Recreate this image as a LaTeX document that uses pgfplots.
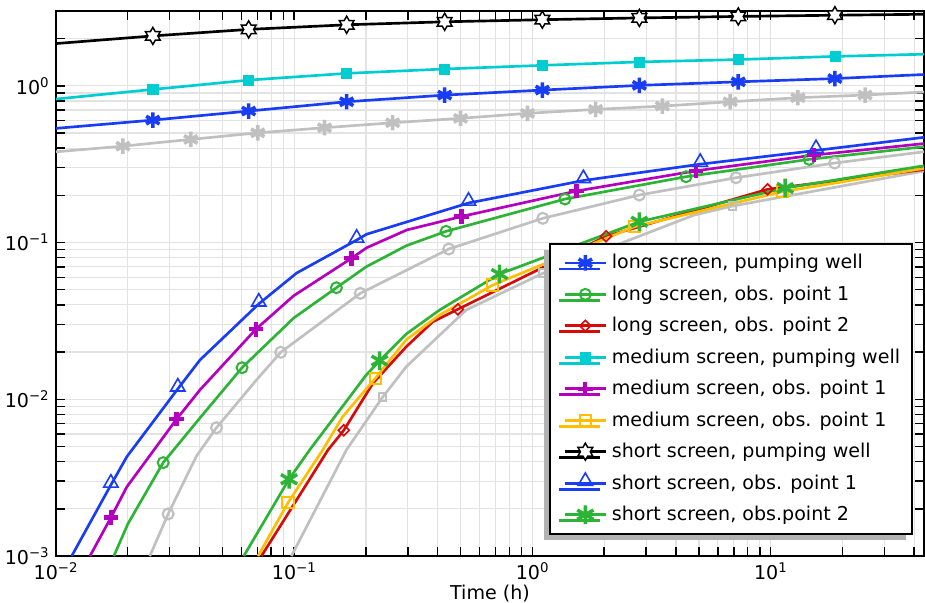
\documentclass[border=0pt]{standalone}
\usepackage{pgfplots}
\pgfplotsset{compat=1.18}
\usepackage{fontspec}
\setmainfont{DejaVu Sans}
\usetikzlibrary{shadows}
\definecolor{cblue}{RGB}{25,60,245}
\definecolor{cgreen}{RGB}{45,180,55}
\definecolor{cred}{RGB}{215,10,10}
\definecolor{ccyan}{RGB}{0,205,210}
\definecolor{cmag}{RGB}{180,0,190}
\definecolor{corange}{RGB}{255,190,0}
\definecolor{cgray}{RGB}{192,192,192}
\pgfdeclareplotmark{hexagram}{%
  \pgfpathmoveto{\pgfpointpolar{90}{\pgfplotmarksize}}%
  \pgfpathlineto{\pgfpointpolar{120}{0.57735\pgfplotmarksize}}%
  \pgfpathlineto{\pgfpointpolar{150}{\pgfplotmarksize}}%
  \pgfpathlineto{\pgfpointpolar{180}{0.57735\pgfplotmarksize}}%
  \pgfpathlineto{\pgfpointpolar{210}{\pgfplotmarksize}}%
  \pgfpathlineto{\pgfpointpolar{240}{0.57735\pgfplotmarksize}}%
  \pgfpathlineto{\pgfpointpolar{270}{\pgfplotmarksize}}%
  \pgfpathlineto{\pgfpointpolar{300}{0.57735\pgfplotmarksize}}%
  \pgfpathlineto{\pgfpointpolar{330}{\pgfplotmarksize}}%
  \pgfpathlineto{\pgfpointpolar{0}{0.57735\pgfplotmarksize}}%
  \pgfpathlineto{\pgfpointpolar{30}{\pgfplotmarksize}}%
  \pgfpathlineto{\pgfpointpolar{60}{0.57735\pgfplotmarksize}}%
  \pgfpathclose
  \pgfusepathqfillstroke
}
\tikzset{
  ln/.style={line width=2pt},
  mAst/.style={mark=asterisk, mark size=5.8pt, mark options={solid, line width=2.7pt}},
  mAstG/.style={mark=asterisk, mark size=7pt, mark options={solid, line width=2.6pt}},
  mCirc/.style={mark=o, mark size=4.1pt, mark options={solid, line width=1.5pt, fill=white}},
  mDia/.style={mark=square, mark size=2.9pt, mark options={solid, rotate=45, line width=1.2pt, fill=white}},
  mSqF/.style={mark=square*, mark size=3.8pt, mark options={solid, line width=0.5pt}},
  mPlus/.style={mark=+, mark size=5.4pt, mark options={solid, line width=3.2pt}},
  mSq/.style={mark=square, mark size=4.2pt, mark options={solid, line width=1.5pt, fill=white}},
  mHex/.style={mark=hexagram, mark size=6.4pt, mark options={solid, line width=1.1pt, fill=white}},
  mTri/.style={mark=triangle, mark size=6.2pt, mark options={solid, line width=1.2pt, fill=white, yshift=1.5pt}},
}
\begin{document}
\fontsize{14.3}{17}\selectfont
\begin{tikzpicture}
\begin{axis}[
  scale only axis, width=651pt, height=408.75pt,
  xmode=log, ymode=log,
  xmin=0.01, xmax=44, ymin=0.001, ymax=3,
  xtick={0.01,0.1,1,10},
  xticklabels={10\textsuperscript{−2},10\textsuperscript{−1},10\textsuperscript{0},10\textsuperscript{1}},
  ytick={0.001,0.01,0.1,1},
  yticklabels={10\textsuperscript{−3},10\textsuperscript{−2},10\textsuperscript{−1},10\textsuperscript{0}},
  minor xtick={0.02,0.03,0.04,0.05,0.06,0.07,0.08,0.09,0.2,0.3,0.4,0.5,0.6,0.7,0.8,0.9,2,3,4,5,6,7,8,9,20,30,40},
  minor ytick={0.002,0.003,0.004,0.005,0.006,0.007,0.008,0.009,0.02,0.03,0.04,0.05,0.06,0.07,0.08,0.09,0.2,0.3,0.4,0.5,0.6,0.7,0.8,0.9,2},
  grid=both,
  major grid style={draw=black!11, line width=0.9pt},
  minor grid style={draw=black!11, line width=0.9pt},
  axis line style={line width=1.5pt},
  tick align=inside,
  every tick/.style={black, line width=1.1pt},
  major tick length=6.5pt, minor tick length=6.5pt,
  xlabel={Time (h)},
  xlabel style={yshift=6pt},
  legend cell align=left,
  legend image code/.code={\pgfpathmoveto{\pgfqpoint{-6pt}{0pt}}\pgfusepath{}\draw[mark repeat=2,mark phase=2,#1] plot coordinates {(0pt,0pt) (15.5pt,0pt) (31pt,0pt)};},
  legend style={at={(0.987,0.0385)}, anchor=south east, draw=black, line width=1.5pt, fill=white,
    drop shadow={shadow xshift=-4.5pt, shadow yshift=-4.5pt, fill=black!30, opacity=1},
    inner xsep=5.3pt, inner ysep=6pt, row sep=6.6pt, nodes={inner xsep=3.4pt},
    font=\fontsize{14.3}{17}\selectfont},
]
% gray reference curves
\addplot[cgray, ln, forget plot] coordinates {(0.01,0.379) (0.0191,0.412) (0.0368,0.455) (0.0703,0.501) (0.134,0.540) (0.259,0.581) (0.499,0.620) (0.953,0.667) (1.84,0.707) (3.51,0.742) (6.76,0.791) (13.0,0.839) (24.9,0.873) (44,0.912)};
\addplot[cgray, only marks, mAst, forget plot] coordinates {(0.0191,0.412) (0.0368,0.455) (0.0703,0.501) (0.134,0.540) (0.259,0.581) (0.499,0.620) (0.953,0.667) (1.84,0.707) (3.51,0.742) (6.76,0.791) (13.0,0.839) (24.9,0.873)};
\addplot[cgray, ln, forget plot] coordinates {(0.02477,0.001) (0.02957,0.001855) (0.0389,0.004349) (0.04718,0.00659) (0.06943,0.01328) (0.08778,0.01994) (0.1894,0.04742) (0.4452,0.0909) (1.105,0.1427) (2.809,0.2009) (7.147,0.259) (18.55,0.3214) (44,0.3795)};
\addplot[cgray, only marks, mCirc, mark options={line width=1.6pt}, forget plot] coordinates {(0.02957,0.001855) (0.04718,0.00659) (0.08778,0.01994) (0.1894,0.04742) (0.4452,0.0909) (1.105,0.1427) (2.809,0.2009) (7.147,0.259) (18.55,0.3214)};
\addplot[cgray, ln, forget plot] coordinates {(0.09734,0.001) (0.1656,0.00475) (0.2348,0.0103) (0.2954,0.01614) (0.5272,0.03711) (1.105,0.06361) (4.778,0.1498) (6.915,0.1709) (44,0.2858)};
\addplot[cgray, only marks, mDia, mark options={line width=1.5pt}, forget plot] coordinates {(0.2348,0.0103) (1.105,0.06361) (6.915,0.1709)};
% long screen, pumping well
\addplot[cblue, ln, forget plot] coordinates {(0.01,0.535) (0.0255,0.604) (0.0644,0.690) (0.166,0.791) (0.428,0.872) (1.10,0.939) (2.81,1.006) (7.31,1.06) (18.6,1.112) (44,1.18)};
\addplot[cblue, only marks, mAst, forget plot] coordinates {(0.0255,0.604) (0.0644,0.690) (0.166,0.791) (0.428,0.872) (1.10,0.939) (2.81,1.006) (7.31,1.06) (18.6,1.112)};
\addlegendimage{cblue, ln, mAst}
\addlegendentry{long screen, pumping well}
% long screen, obs. point 1
\addplot[cgreen, ln, forget plot] coordinates {(0.0175,0.001) (0.02003,0.001602) (0.02818,0.003942) (0.0402,0.0076) (0.0604,0.0159) (0.0995,0.0330) (0.1503,0.05148) (0.2007,0.0701) (0.2954,0.09541) (0.4337,0.1179) (1.369,0.1894) (4.41,0.2629) (14.50,0.3393) (44,0.4083)};
\addplot[cgreen, only marks, mCirc, forget plot] coordinates {(0.02818,0.003942) (0.0604,0.0159) (0.1503,0.05148) (0.4337,0.1179) (1.369,0.1894) (4.41,0.2629) (14.50,0.3393)};
\addlegendimage{cgreen, ln, mCirc}
\addlegendentry{long screen, obs. point 1}
% long screen, obs. point 2
\addplot[cred, ln, forget plot] coordinates {(0.07286,0.001) (0.1386,0.00475) (0.1615,0.006342) (0.214,0.01265) (0.2954,0.02165) (0.3819,0.03125) (0.4862,0.0375) (2.037,0.1096) (9.696,0.2184) (44,0.2921)};
\addplot[cred, only marks, mDia, forget plot] coordinates {(0.1615,0.006342) (0.4862,0.0375) (2.037,0.1096) (9.696,0.2184)};
\addlegendimage{cred, ln, mDia}
\addlegendentry{long screen, obs. point 2}
% medium screen, pumping well
\addplot[ccyan, ln, forget plot] coordinates {(0.01,0.823) (0.0255,0.948) (0.0644,1.087) (0.166,1.20) (0.428,1.28) (1.10,1.35) (2.81,1.42) (7.31,1.47) (18.6,1.54) (44,1.59)};
\addplot[ccyan, only marks, mSqF, forget plot] coordinates {(0.0255,0.948) (0.0644,1.087) (0.166,1.20) (0.428,1.28) (1.10,1.35) (2.81,1.42) (7.31,1.47) (18.6,1.54)};
\addlegendimage{ccyan, ln, mSqF}
\addlegendentry{medium screen, pumping well}
% medium screen, obs. point 1
\addplot[cmag, ln, forget plot] coordinates {(0.01389,0.001) (0.0170,0.001758) (0.01984,0.002762) (0.03206,0.007457) (0.0402,0.01147) (0.0690,0.02795) (0.0995,0.04577) (0.1738,0.0793) (0.2014,0.0926) (0.2965,0.1202) (0.5037,0.1466) (1.529,0.2130) (4.87,0.2870) (15.22,0.3614) (44,0.4279)};
\addplot[cmag, only marks, mPlus, forget plot] coordinates {(0.0170,0.001758) (0.03206,0.007457) (0.0690,0.02795) (0.1738,0.0793) (0.5037,0.1466) (1.529,0.2130) (4.87,0.2870) (15.22,0.3614)};
\addlegendimage{cmag, ln, mPlus}
\addlegendentry{medium screen, obs. point 1}
% medium screen, obs. point 1 (second)
\addplot[corange, ln, forget plot] coordinates {(0.0705,0.001) (0.09419,0.002191) (0.1317,0.00475) (0.1597,0.007745) (0.2190,0.01361) (0.2954,0.0240) (0.4074,0.03448) (0.6818,0.05358) (2.677,0.1261) (11.17,0.2109) (44,0.2973)};
\addplot[corange, only marks, mSq, forget plot] coordinates {(0.09419,0.002191) (0.2190,0.01361) (0.6818,0.05358) (2.677,0.1261) (11.17,0.2109)};
\addlegendimage{corange, ln, mSq}
\addlegendentry{medium screen, obs. point 1}
% short screen, pumping well
\addplot[black, ln, forget plot] coordinates {(0.01,1.86) (0.0255,2.08) (0.0644,2.29) (0.166,2.45) (0.428,2.56) (1.10,2.64) (2.81,2.71) (7.31,2.77) (18.6,2.82) (44,2.86)};
\addplot[black, only marks, mHex, forget plot] coordinates {(0.0255,2.08) (0.0644,2.29) (0.166,2.45) (0.428,2.56) (1.10,2.64) (2.81,2.71) (7.31,2.77) (18.6,2.82)};
\addlegendimage{black, ln, mHex}
\addlegendentry{short screen, pumping well}
% short screen, obs. point 1
\addplot[cblue, ln, forget plot] coordinates {(0.01164,0.001) (0.0170,0.00284) (0.01984,0.00430) (0.03246,0.01165) (0.0402,0.0178) (0.0710,0.0406) (0.1024,0.0639) (0.1828,0.1037) (0.2014,0.1130) (0.539,0.1787) (1.636,0.2487) (5.06,0.316) (15.5,0.387) (44,0.469)};
\addplot[cblue, only marks, mTri, forget plot] coordinates {(0.0170,0.00284) (0.03246,0.01165) (0.0710,0.0406) (0.1828,0.1037) (0.539,0.1787) (1.636,0.2487) (5.06,0.316) (15.5,0.387)};
\addlegendimage{cblue, ln, mTri}
\addlegendentry{short screen, obs. point 1}
% short screen, obs.point 2
\addplot[cgreen, ln, forget plot] coordinates {(0.06142,0.001) (0.09511,0.003089) (0.1161,0.00475) (0.2007,0.0143) (0.2283,0.01763) (0.2954,0.0261) (0.4074,0.03711) (0.7272,0.06295) (2.809,0.1357) (11.50,0.2226) (44,0.3089)};
\addplot[cgreen, only marks, mAstG, forget plot] coordinates {(0.09511,0.003089) (0.2283,0.01763) (0.7272,0.06295) (2.809,0.1357) (11.50,0.2226)};
\addlegendimage{cgreen, ln, mAstG}
\addlegendentry{short screen, obs.point 2}
\end{axis}
\pgfresetboundingbox
\path[use as bounding box] ([xshift=-42pt,yshift=-35.25pt]current axis.south west) rectangle ([xshift=0.75pt,yshift=8.25pt]current axis.north east);
\end{tikzpicture}
\end{document}
